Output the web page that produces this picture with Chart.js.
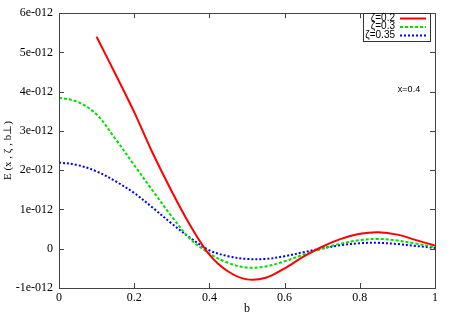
<!DOCTYPE html>
<html>
<head>
<meta charset="utf-8">
<script src="https://cdn.jsdelivr.net/npm/chart.js@4/dist/chart.umd.min.js"></script>
<style>
  html, body { margin: 0; padding: 0; background: #fff; }
  #wrap { width: 452px; height: 316px; }
</style>
</head>
<body>
<div id="wrap"><canvas id="chart" width="452" height="316"></canvas></div>
<script>
"use strict";

// values in units of 1e-12
const bRed = [0.10, 0.15, 0.20, 0.25, 0.30, 0.35, 0.40, 0.45, 0.50, 0.55, 0.60, 0.65, 0.70, 0.75, 0.80, 0.85, 0.90, 0.95, 1.00];
const zeta02 = [5.40, 4.45, 3.48, 2.42, 1.46, 0.58, -0.15, -0.58, -0.78, -0.74, -0.50, -0.20, 0.05, 0.25, 0.38, 0.42, 0.36, 0.22, 0.08];

const bAll = [0, 0.05, 0.10, 0.15, 0.20, 0.25, 0.30, 0.35, 0.40, 0.45, 0.50, 0.55, 0.60, 0.65, 0.70, 0.75, 0.80, 0.85, 0.90, 0.95, 1.00];
const zeta03 = [3.85, 3.74, 3.42, 2.80, 2.13, 1.47, 0.82, 0.24, -0.12, -0.36, -0.48, -0.45, -0.32, -0.15, 0.00, 0.13, 0.22, 0.25, 0.21, 0.13, 0.04];
const zeta035 = [2.20, 2.13, 1.97, 1.72, 1.42, 1.04, 0.64, 0.27, -0.04, -0.19, -0.26, -0.26, -0.19, -0.09, 0.01, 0.09, 0.14, 0.15, 0.12, 0.07, 0.02];

const seriesLabels = ["\u03b6=0.2", "\u03b6=0.3", "\u03b6=0.35"];
const xTicks = [0, 0.2, 0.4, 0.6, 0.8, 1];
const yTicks = [-1, 0, 1, 2, 3, 4, 5, 6];

function toPoints(xs, ys) {
    return xs.map((x, i) => ({x: x, y: ys[i]}));
}

const frame = {
    id: "frame",
    afterDraw(chart) {
        const ctx = chart.ctx;
        const a = chart.chartArea;
        const xs = chart.scales.x;
        const ys = chart.scales.y;
        ctx.save();
        ctx.strokeStyle = "#444";
        ctx.lineWidth = 1;
        ctx.beginPath();
        xTicks.forEach(v => {
            const px = Math.round(xs.getPixelForValue(v)) + 0.5;
            ctx.moveTo(px, a.bottom); ctx.lineTo(px, a.bottom - 5);
            ctx.moveTo(px, a.top); ctx.lineTo(px, a.top + 5);
        });
        yTicks.forEach(v => {
            const py = Math.round(ys.getPixelForValue(v)) + 0.5;
            ctx.moveTo(a.left, py); ctx.lineTo(a.left + 5, py);
            ctx.moveTo(a.right, py); ctx.lineTo(a.right - 5, py);
        });
        ctx.stroke();
        ctx.strokeRect(Math.round(a.left) + 0.5, Math.round(a.top) + 0.5,
            Math.round(a.right - a.left), Math.round(a.bottom - a.top));

        // legend
        ctx.fillStyle = "#fff";
        ctx.fillRect(363.5, 13.5, 67, 28);
        ctx.strokeStyle = "#333";
        ctx.strokeRect(363.5, 13.5, 67, 28);
        ctx.font = "10px 'Liberation Sans', Arial, sans-serif";
        ctx.textAlign = "right";
        ctx.textBaseline = "middle";
        chart.data.datasets.forEach((ds, i) => {
            const y = 18 + i * 8.5;
            ctx.fillStyle = "#000";
            ctx.fillText(ds.label, 395, y);
            ctx.strokeStyle = ds.borderColor;
            ctx.lineWidth = 2;
            ctx.setLineDash(ds.borderDash || []);
            ctx.beginPath();
            ctx.moveTo(400, y + 0.5);
            ctx.lineTo(426, y + 0.5);
            ctx.stroke();
            ctx.setLineDash([]);
        });

        ctx.fillStyle = "#000";
        ctx.textAlign = "center";
        ctx.font = "9px 'Liberation Sans', Arial, sans-serif";
        ctx.fillText("x=0.4", 409, 90);
        ctx.restore();
    }
};

const ctx = document.querySelector("#chart").getContext("2d");
const configuration = {
    type: "line",
    data: {
        datasets: [
            {
                label: seriesLabels[0],
                data: toPoints(bRed, zeta02),
                borderColor: "#ff0000",
                borderWidth: 2
            },
            {
                label: seriesLabels[1],
                data: toPoints(bAll, zeta03),
                borderColor: "#00e000",
                borderWidth: 2,
                borderDash: [3, 2]
            },
            {
                label: seriesLabels[2],
                data: toPoints(bAll, zeta035),
                borderColor: "#0000ff",
                borderWidth: 2,
                borderDash: [2, 2]
            }
        ]
    },
    options: {
        responsive: false,
        animation: false,
        layout: {
            padding: {left: 0, top: 10, right: 17, bottom: 0}
        },
        elements: {
            point: {radius: 0},
            line: {tension: 0.35}
        },
        plugins: {
            legend: {display: false},
            tooltip: {enabled: false}
        },
        scales: {
            x: {
                type: "linear",
                min: 0,
                max: 1,
                afterBuildTicks: scale => {
                    scale.ticks = xTicks.map(v => ({value: v}));
                },
                afterFit: scale => {
                    scale.height = 28;
                },
                grid: {display: false, drawTicks: false},
                border: {display: false},
                ticks: {
                    padding: 3,
                    color: "#000",
                    font: {family: "'Liberation Serif', 'Times New Roman', serif", size: 12},
                    callback: v => String(+v.toFixed(1))
                },
                title: {
                    display: true,
                    text: "b",
                    color: "#000",
                    padding: {top: 0, bottom: 0},
                    font: {family: "'Liberation Serif', 'Times New Roman', serif", size: 12}
                }
            },
            y: {
                min: -1,
                max: 6,
                afterBuildTicks: scale => {
                    scale.ticks = yTicks.map(v => ({value: v}));
                },
                afterFit: scale => {
                    scale.width = 59;
                },
                grid: {display: false, drawTicks: false},
                border: {display: false},
                ticks: {
                    padding: 6,
                    color: "#000",
                    font: {family: "'Liberation Serif', 'Times New Roman', serif", size: 12},
                    callback: v => v === 0 ? "0" : v + "e-012"
                },
                title: {
                    display: true,
                    text: "E (x , \u03b6 , b\u22a5)",
                    color: "#000",
                    padding: {top: 2, bottom: 0},
                    font: {family: "'Liberation Serif', 'Times New Roman', serif", size: 11}
                }
            }
        }
    },
    plugins: [frame]
};
new Chart(ctx, configuration); //NOSONAR
</script>
</body>
</html>
